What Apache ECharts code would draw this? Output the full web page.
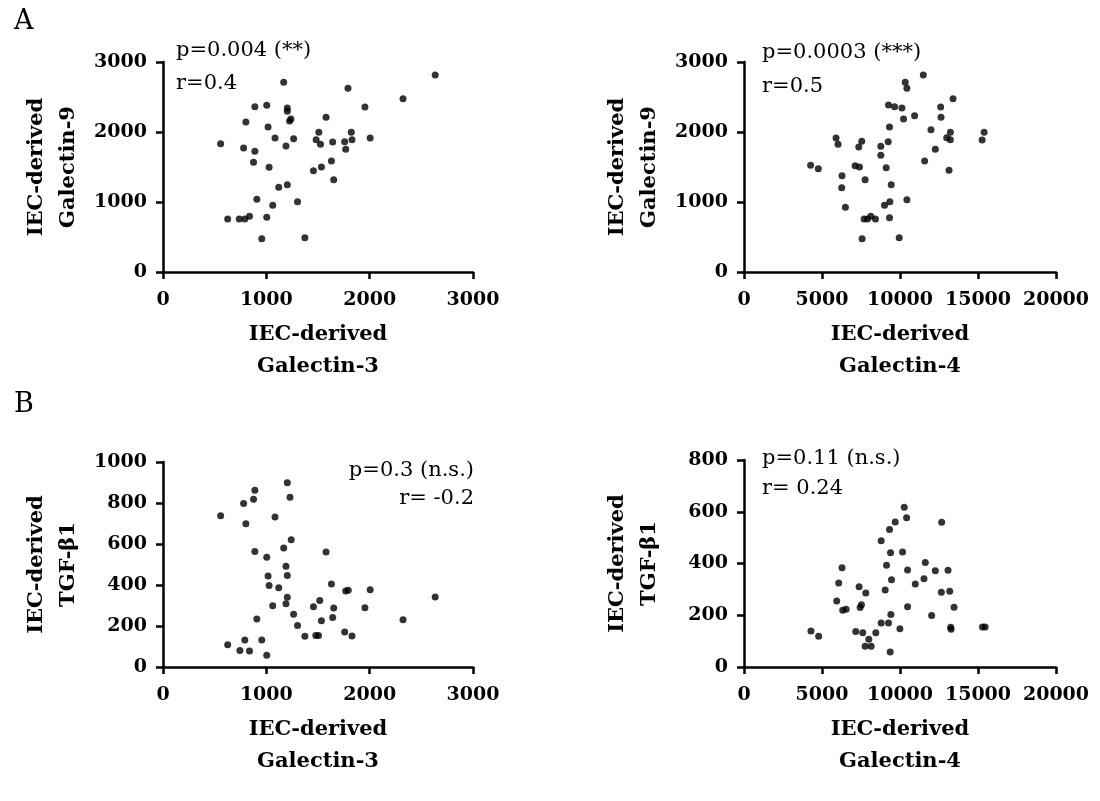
<!DOCTYPE html>
<html>
<head>
<meta charset="utf-8">
<script src="https://cdn.jsdelivr.net/npm/echarts@6/dist/echarts.min.js"></script>
<style>
html,body{margin:0;padding:0;background:#fff;}
#chart{width:1100px;height:801px;}
</style>
</head>
<body>
<div id="chart"></div>
<script>
// Panel A-left: Galectin-3 (x) vs Galectin-9 (y)
const gal3_vs_gal9 = [
[2634,2814],[1168,2710],[1790,2624],[2323,2476],[889,2362],[1004,2381],[1203,2343],[1203,2295],
[1954,2357],[1238,2186],[1225,2157],[1578,2210],[802,2143],[1017,2071],[1508,1995],[1822,1995],
[1084,1914],[1264,1905],[1482,1890],[1524,1824],[1642,1857],[1758,1862],[1829,1890],[2005,1914],
[558,1833],[1190,1800],[780,1771],[889,1724],[1768,1752],[876,1567],[1027,1495],[1630,1586],
[1533,1500],[1456,1448],[1652,1319],[1120,1210],[1203,1248],[908,1038],[1062,952],[1302,1005],
[626,757],[738,757],[792,757],[837,795],[1004,781],[956,476],[1373,490]
];
// Panel A-right: Galectin-4 (x) vs Galectin-9 (y)
const gal4_vs_gal9 = [
[11493,2814],[10336,2710],[10443,2624],[13400,2476],[9264,2386],[9650,2362],[10121,2343],[12607,2357],
[10936,2233],[10228,2186],[12629,2210],[9329,2071],[11986,2033],[13229,1995],[15393,1995],[5900,1914],
[6028,1824],[7550,1867],[7357,1786],[9243,1862],[8771,1795],[12993,1919],[13229,1890],[15265,1886],
[12264,1752],[8771,1667],[11579,1586],[4271,1524],[4764,1476],[7121,1519],[7400,1500],[9114,1491],
[13143,1452],[6285,1376],[7764,1319],[9436,1248],[6264,1205],[10443,1033],[9350,1005],[9007,952],
[6500,924],[7700,757],[7914,757],[8128,795],[8428,757],[9329,776],[7571,476],[9950,490]
];
// Panel B-left: Galectin-3 (x) vs TGF-β1 (y)
const gal3_vs_tgf = [
[1203,899],[889,862],[1229,828],[876,818],[780,797],[558,738],[1084,732],[802,699],
[1241,621],[1168,580],[889,564],[1004,535],[1578,561],[1190,491],[1017,444],[1203,446],
[1027,397],[1120,387],[1630,405],[1768,371],[1793,374],[2005,377],[2634,341],[1203,340],
[1517,324],[1190,309],[1062,299],[1456,294],[1652,288],[1954,289],[1264,257],[1642,242],
[908,234],[1533,226],[2323,231],[1302,203],[1758,171],[1829,151],[1373,150],[1479,154],
[1505,154],[792,132],[956,132],[626,109],[744,80],[837,78],[1004,57]
];
// Panel B-right: Galectin-4 (x) vs TGF-β1 (y)
const gal4_vs_tgf = [
[10271,617],[10422,577],[12672,559],[9693,560],[9329,531],[8793,488],[9393,442],[10164,444],
[9136,393],[11622,404],[6285,384],[10486,375],[12264,372],[13079,374],[9457,337],[11536,341],
[6071,325],[10979,321],[7378,310],[7807,286],[9050,298],[12650,289],[13186,293],[5943,255],
[7528,241],[7443,230],[10486,233],[13464,231],[6328,219],[6543,223],[12029,199],[9414,203],
[8793,170],[9264,170],[9993,148],[13250,154],[13272,146],[15286,155],[15458,155],[4292,139],
[4785,119],[7164,137],[7614,132],[8450,132],[8000,107],[7764,80],[8150,80],[9371,58]
];

const xTitles = ['IEC-derived\nGalectin-3','IEC-derived\nGalectin-4','IEC-derived\nGalectin-3','IEC-derived\nGalectin-4'];
const yTitles = ['IEC-derived\nGalectin-9','IEC-derived\nGalectin-9','IEC-derived\nTGF-β1','IEC-derived\nTGF-β1'];
const xMax = [3000, 20000, 3000, 20000];
const xStep = [1000, 5000, 1000, 5000];
const yMax = [3000, 3000, 1000, 800];
const yStep = [1000, 1000, 200, 200];
const stats = [
  ['p=0.004 (**)', 'r=0.4'],
  ['p=0.0003 (***)', 'r=0.5'],
  ['p=0.3 (n.s.)', 'r= -0.2'],
  ['p=0.11 (n.s.)', 'r= 0.24']
];
const panelLetters = ['A','B'];

const FONT = '"DejaVu Serif", "Liberation Serif", serif';
const datasets = [gal3_vs_gal9, gal4_vs_gal9, gal3_vs_tgf, gal4_vs_tgf];

const grids = [
  {left:163, top:62, width:310, height:210},
  {left:744, top:62, width:312, height:210},
  {left:163, top:462, width:310, height:205},
  {left:744, top:460, width:312, height:207}
];

const lineStyle = {color:'#000', width:2.5};
const plain = v => String(v);
const xAxes = [], yAxes = [], series = [];
for (let i=0;i<4;i++){
  xAxes.push({
    gridIndex:i, type:'value', min:0, max:xMax[i], interval:xStep[i],
    axisLine:{show:true, onZero:false, lineStyle:lineStyle},
    axisTick:{show:true, length:7, lineStyle:lineStyle},
    axisLabel:{fontFamily:FONT, fontWeight:'bold', fontSize:19, color:'#000', margin:19, formatter:plain},
    splitLine:{show:false},
    name:xTitles[i], nameLocation:'middle', nameGap:47,
    nameTextStyle:{fontFamily:FONT, fontWeight:'bold', fontSize:21, color:'#000', lineHeight:32}
  });
  yAxes.push({
    gridIndex:i, type:'value', min:0, max:yMax[i], interval:yStep[i],
    axisLine:{show:true, onZero:false, lineStyle:lineStyle},
    axisTick:{show:true, length:7, lineStyle:lineStyle},
    axisLabel:{fontFamily:FONT, fontWeight:'bold', fontSize:19, color:'#000', margin:16, formatter:plain},
    splitLine:{show:false},
    name:yTitles[i], nameLocation:'middle', nameGap:78, nameRotate:90,
    nameTextStyle:{fontFamily:FONT, fontWeight:'bold', fontSize:21, color:'#000', lineHeight:32}
  });
  series.push({
    type:'scatter', xAxisIndex:i, yAxisIndex:i, data:datasets[i],
    symbol:'circle', symbolSize:7, itemStyle:{color:'#000'}, silent:true
  });
}

const txt = (t, x, y, align, size) => ({
  type:'text', x:x, y:y, silent:true,
  style:{text:t, x:0, y:0, fill:'#000', font:'normal ' + size + 'px ' + FONT, textAlign:align, textVerticalAlign:'middle'}
});
const graphics = [
  txt(panelLetters[0], 14, 22, 'left', 27),
  txt(panelLetters[1], 14, 405, 'left', 27),
  txt(stats[0][0], 176, 51, 'left', 21),
  txt(stats[0][1], 176, 84, 'left', 21),
  txt(stats[1][0], 762, 53, 'left', 21),
  txt(stats[1][1], 762, 87, 'left', 21),
  txt(stats[2][0], 474, 471, 'right', 21),
  txt(stats[2][1], 474, 499, 'right', 21),
  txt(stats[3][0], 762, 459, 'left', 21),
  txt(stats[3][1], 762, 489, 'left', 21)
];

const chart = echarts.init(document.getElementById('chart'), null, {renderer:'canvas'});
chart.setOption({
  backgroundColor:'#fff',
  animation:false,
  grid:grids,
  xAxis:xAxes,
  yAxis:yAxes,
  series:series,
  graphic:graphics
});
</script>
</body>
</html>
